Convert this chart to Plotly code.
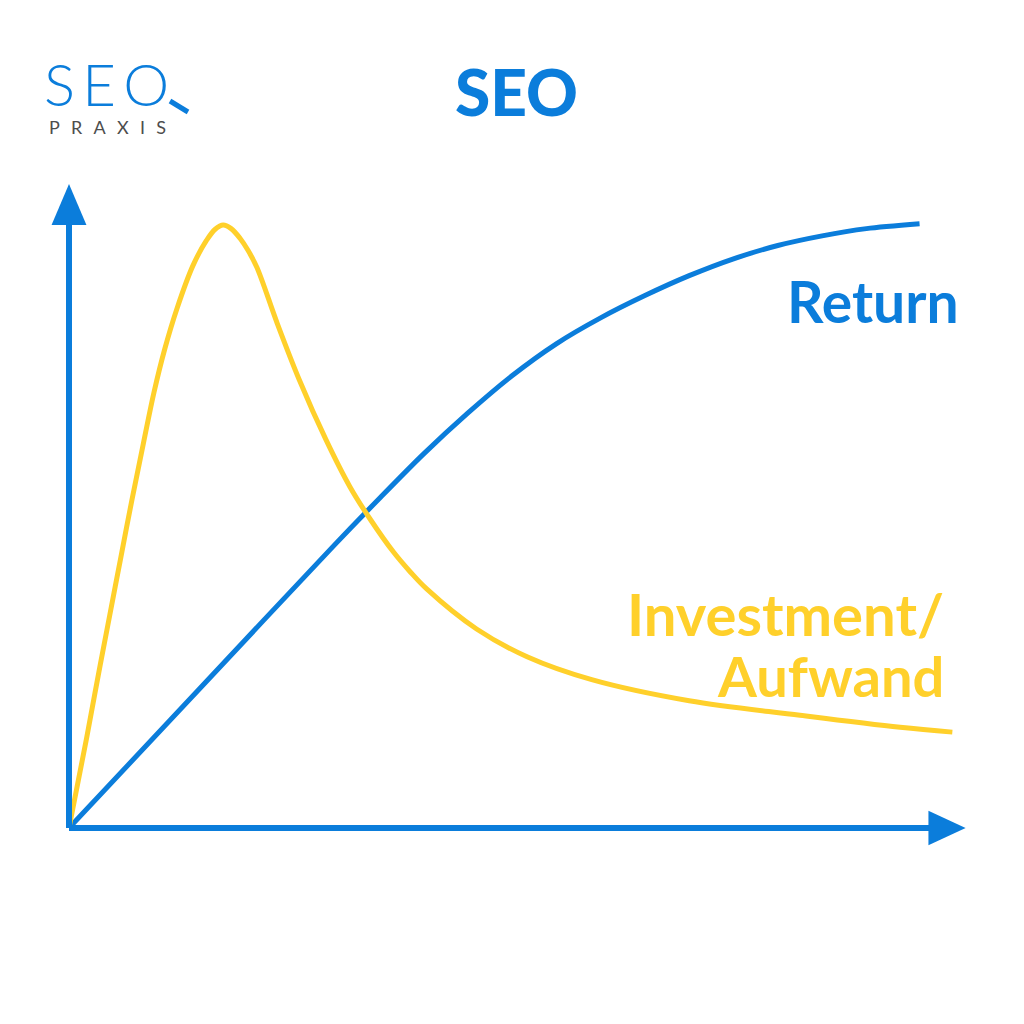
import plotly.graph_objects as go

# ---------------- data ----------------
return_x = [0, 1.5, 3.0, 3.5, 4.0, 4.5, 5.0, 5.5, 6.0, 6.5, 7.0, 7.5, 8.0, 8.5, 9.0, 9.6]
return_y = [0, 23.5, 47.0, 54.6, 62.0, 68.8, 75.0, 80.3, 84.6, 88.3, 91.6, 94.4, 96.6, 98.2, 99.4, 100.2]

invest_x = [0, 0.2, 0.33, 0.46, 0.58, 0.71, 0.84, 0.96, 1.08, 1.22, 1.4, 1.55, 1.65, 1.74,
            1.83, 1.93, 2.02, 2.12, 2.35, 2.6, 2.9, 3.17, 3.4, 3.66, 3.85, 4.04, 4.6, 5.17, 5.9,
            7.0, 8.25, 9.38, 9.97]
invest_y = [0, 15.0, 25.3, 35.3, 44.5, 54.4, 63.8, 72.3, 79.4, 86.2, 93.3, 97.4, 99.3, 100.0,
            99.4, 97.8, 95.8, 93.0, 83.7, 74.3, 64.4, 56.6, 51.2, 45.8, 42.5, 39.6, 33.0, 28.4, 24.6,
            21.1, 18.7, 16.7, 15.9]

title_text = "SEO"
label_return = "Return"
label_invest = ["Investment/", "Aufwand"]
logo_main = "SEO"
logo_sub = "PRAXIS"

# ---------------- style / layout ----------------
BLUE = "#0B7DDB"
YELLOW = "#FFD02B"
GRAY = "#4d4d4d"
W = H = 1024

# pixel anchors of the data frame
ORIGIN_PX = (69, 828)
PX_PER_X = 88.6
PX_PER_Y = 6.03

x_range = [-ORIGIN_PX[0] / PX_PER_X, (W - ORIGIN_PX[0]) / PX_PER_X]
y_range = [-(H - ORIGIN_PX[1]) / PX_PER_Y, ORIGIN_PX[1] / PX_PER_Y]

# axis arrow geometry (data units)
Y_AXIS_TOP = 100.0
Y_ARROW_TIP = 106.8
Y_ARROW_HALF = 0.197
X_AXIS_END = 9.70
X_ARROW_TIP = 10.12
X_ARROW_HALF = 2.85


def paper(px, py):
    return px / W, 1 - py / H


def dx(px):
    return (px - ORIGIN_PX[0]) / PX_PER_X


def dy(py):
    return (ORIGIN_PX[1] - py) / PX_PER_Y


fig = go.Figure()

fig.add_trace(go.Scatter(
    x=return_x, y=return_y, mode="lines",
    line=dict(color=BLUE, width=5, shape="spline", smoothing=0.8),
    hoverinfo="skip", showlegend=False))

fig.add_trace(go.Scatter(
    x=invest_x, y=invest_y, mode="lines",
    line=dict(color=YELLOW, width=5, shape="spline", smoothing=1.0),
    hoverinfo="skip", showlegend=False))

shapes = []
# axes lines
shapes.append(dict(type="line", xref="x", yref="y", x0=0, y0=0, x1=0, y1=Y_AXIS_TOP + 1,
                   line=dict(color=BLUE, width=6), layer="above"))
shapes.append(dict(type="line", xref="x", yref="y", x0=0, y0=0, x1=X_AXIS_END + 0.05, y1=0,
                   line=dict(color=BLUE, width=6), layer="above"))
# arrowheads
shapes.append(dict(type="path", xref="x", yref="y",
                   path=f"M {-Y_ARROW_HALF},{Y_AXIS_TOP} L {Y_ARROW_HALF},{Y_AXIS_TOP} L 0,{Y_ARROW_TIP} Z",
                   fillcolor=BLUE, line=dict(width=0), layer="above"))
shapes.append(dict(type="path", xref="x", yref="y",
                   path=f"M {X_AXIS_END},{-X_ARROW_HALF} L {X_AXIS_END},{X_ARROW_HALF} L {X_ARROW_TIP},0 Z",
                   fillcolor=BLUE, line=dict(width=0), layer="above"))
# logo magnifier handle
hx0, hy0 = paper(170, 101)
hx1, hy1 = paper(188, 112)
shapes.append(dict(type="line", xref="paper", yref="paper", x0=hx0, y0=hy0, x1=hx1, y1=hy1,
                   line=dict(color=BLUE, width=5)))

annotations = []
tx, ty = paper(516, 91)
annotations.append(dict(text=title_text, x=tx, y=ty, xref="paper", yref="paper",
                        xanchor="center", yanchor="middle", showarrow=False,
                        font=dict(family="Lato", size=64, color=BLUE, weight=900)))

lx, ly = paper(42, 83)
annotations.append(dict(text="\u2009".join(logo_main), x=lx, y=ly, xref="paper", yref="paper",
                        xanchor="left", yanchor="middle", showarrow=False,
                        font=dict(family="Lato", size=58, color=BLUE, weight=300)))
sx, sy = paper(47, 127)
annotations.append(dict(text="\u2002\u2009".join(logo_sub), x=sx, y=sy, xref="paper", yref="paper",
                        xanchor="left", yanchor="middle", showarrow=False,
                        font=dict(family="Lato", size=18, color=GRAY, weight=400)))

annotations.append(dict(text=label_return, x=dx(961), y=dy(301), xref="x", yref="y",
                        xanchor="right", yanchor="middle", showarrow=False,
                        font=dict(family="Lato", size=57, color=BLUE, weight=700)))
for txt, py, size in zip(label_invest, [613, 675], [58, 56]):
    annotations.append(dict(text=txt, x=dx(946), y=dy(py), xref="x", yref="y",
                            xanchor="right", yanchor="middle", showarrow=False,
                            font=dict(family="Lato", size=size, color=YELLOW, weight=700)))

fig.update_layout(
    width=W, height=H,
    margin=dict(l=0, r=0, t=0, b=0),
    paper_bgcolor="white", plot_bgcolor="white",
    xaxis=dict(range=x_range, visible=False, fixedrange=True),
    yaxis=dict(range=y_range, visible=False, fixedrange=True),
    shapes=shapes, annotations=annotations,
    showlegend=False,
)

fig.write_html("out.html", config={"displayModeBar": False},
               post_script="document.body.style.margin='0px';document.body.style.overflow='hidden';")
